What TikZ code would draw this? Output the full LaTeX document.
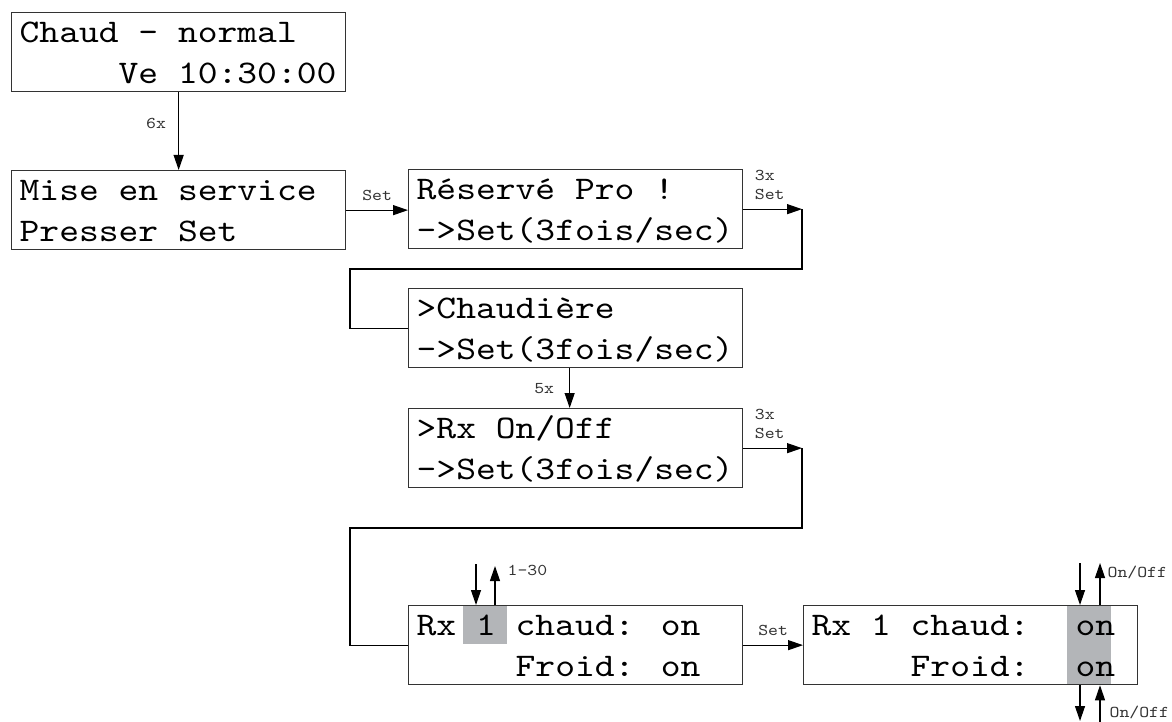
\documentclass[tikz,border=0pt]{standalone}
\usepackage{fontspec}
\setmainfont{Liberation Serif}
\newfontfamily\lcdfont{lmmono10-regular.otf}[FakeStretch=1.143]
\usepackage{tikz}
\usetikzlibrary{arrows.meta, positioning, calc}

\definecolor{selgrey}{RGB}{179,181,184}

% one character cell of the display font
\newlength\lcdch
\setlength\lcdch{19.8pt}
\newcommand\gap[1]{\hspace*{#1\lcdch}}

% two-line display, 334pt x 79pt
\newcommand\lcd[2]{\vbox to 79pt{\offinterlineskip
  \kern30pt\hbox to 334pt{\kern8pt\smash{#1}\hss}%
  \kern41pt\hbox to 334pt{\kern8pt\smash{#2}\hss}\vss}}

\begin{document}
\begin{tikzpicture}[
  x=1pt, y=-1pt,
  lcd/.style={draw=black!80, line width=1.3pt, inner sep=0pt, anchor=north west,
    font=\lcdfont\fontsize{33}{41}\selectfont},
  arr/.style={-{Triangle[length=15pt, width=10pt]}, line width=1.2pt},
  link/.style={line width=1.2pt},
  lbl/.style={font=\lcdfont\fontsize{16.5}{19}\selectfont, inner sep=2pt,
    text=black!80, align=left},
  hilite/.style={fill=selgrey}
]
\useasboundingbox (0,0) rectangle (1172,722);

% highlighted fields
\fill[hilite] (463,606) rectangle (507,644);
\fill[hilite] (1067,605) rectangle (1111,684);

\node[lcd] (home) at (11,12) {\lcd{Chaud - normal}{\gap5Ve 10:30:00}};
\node[lcd] (service) at (11,170) {\lcd{Mise en service}{Presser Set}};
\node[lcd] (pro) at (408,169) {\lcd{Réservé Pro !}{->Set(3fois/sec)}};
\node[lcd] (boiler) at (408,288) {\lcd{>Chaudière}{->Set(3fois/sec)}};
\node[lcd] (rxmenu) at (408,408) {\lcd{>Rx On/Off}{->Set(3fois/sec)}};
\node[lcd] (rxsel) at (408,605) {\lcd{Rx 1 chaud: on}{\gap5Froid: on}};
\node[lcd] (rxset) at (803,605) {\lcd{Rx 1 chaud:~ on}{\gap5Froid:~ on}};

\coordinate (turn) at (802,0);
\coordinate (backA) at (350,269);
\coordinate (backB) at (350,528);

% into service mode
\draw[arr] (home) -- node[lbl, left=10pt, pos=0.4] {6x} (service);
\draw[arr] (service.east) -- node[lbl, above=7pt] {Set} (service.east -| pro.west);

% pro menu
\draw[arr] (pro.east) -- (pro.east -| turn)
  node[lbl, at start, anchor=south west, xshift=9pt, yshift=7pt] {3x\\Set};
\draw[link] (pro.east -| turn) |- (backA) |- (boiler.west);
\draw[arr] ([xshift=-6pt]boiler.south) -- node[lbl, left=13pt] {5x} ([xshift=-6pt]rxmenu.north);

% Rx on/off
\draw[arr] (rxmenu.east) -- (rxmenu.east -| turn)
  node[lbl, at start, anchor=south west, xshift=9pt, yshift=7pt] {3x\\Set};
\draw[link] (rxmenu.east -| turn) |- (backB) |- (rxsel.west);
\draw[arr] (rxsel) -- node[lbl, above=7pt] {Set} (rxset);

% number 1-30
\coordinate (selDn) at (476,564);
\coordinate (selUp) at (495,566);
\draw[arr] (selDn) -- (selDn |- rxsel.north);
\draw[arr] (selUp |- rxsel.north) -- (selUp)
  node[lbl, right=10pt, yshift=-4pt] {1-30};

% on/off toggles
\coordinate (onDn) at (1080,563);
\coordinate (onUp) at (1100,563);
\coordinate (offDn) at (1080,721);
\coordinate (offUp) at (1100,726);
\draw[arr] (onDn) -- (onDn |- rxset.north);
\draw[arr] (onUp |- rxset.north) -- (onUp)
  node[lbl, right=5pt, yshift=-9pt] {On/Off};
\draw[arr] (offDn |- rxset.south) -- (offDn);
\draw[arr] (offUp) -- (offUp |- rxset.south)
  node[lbl, at start, anchor=west, xshift=7pt, yshift=14pt] {On/Off};
\end{tikzpicture}
\end{document}
